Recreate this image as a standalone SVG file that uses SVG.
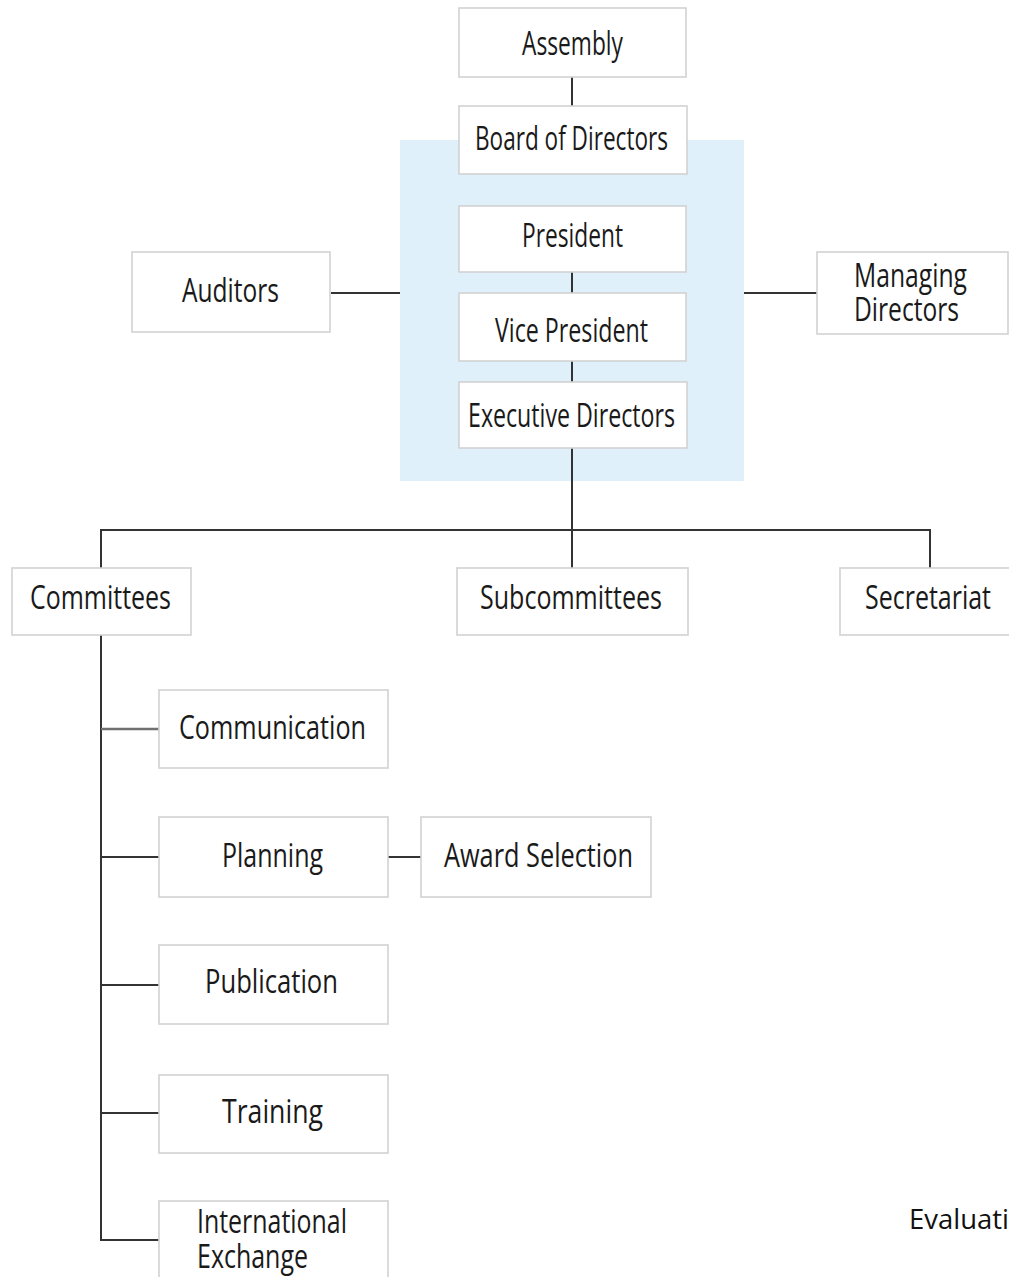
<svg xmlns="http://www.w3.org/2000/svg" width="1009" height="1277" viewBox="0 0 1009 1277">
<style>
.bg{fill:#ffffff}
.panel{fill:#dff0fa}
.box{fill:#ffffff;stroke:#d2d2d2;stroke-width:1.6}
.lbl{font-family:"Open Sans","Liberation Sans",sans-serif;font-size:32px;fill:#1a1a1a}
.c{fill:none;stroke:#333333;stroke-width:2}
.cg{fill:none;stroke:#707070;stroke-width:2.5}
.note{font-family:"Open Sans","Liberation Sans",sans-serif;font-size:28px;fill:#111111}
</style>
<rect class="bg" x="0" y="0" width="1009" height="1277"/>
<rect class="panel" x="400" y="140" width="344" height="341"/>
<g id="connectors">
<line class="c" x1="572" y1="77" x2="572" y2="106"/>
<line class="c" x1="572" y1="272" x2="572" y2="293"/>
<line class="c" x1="572" y1="361" x2="572" y2="382"/>
<line class="c" x1="331" y1="293" x2="400" y2="293"/>
<line class="c" x1="744" y1="293" x2="817" y2="293"/>
<line class="c" x1="572" y1="448" x2="572" y2="568"/>
<polyline class="c" points="101,568 101,530 930,530 930,568"/>
<polyline class="c" points="101,635 101,1240 159,1240"/>
<line class="cg" x1="101" y1="729" x2="159" y2="729"/>
<line class="c" x1="101" y1="857" x2="159" y2="857"/>
<line class="c" x1="388" y1="857" x2="421" y2="857"/>
<line class="c" x1="101" y1="985" x2="159" y2="985"/>
<line class="c" x1="101" y1="1113" x2="159" y2="1113"/>
</g>
<g id="assembly"><rect class="box" x="459" y="8" width="227" height="69"/><text class="lbl" x="522" y="55" textLength="101" lengthAdjust="spacingAndGlyphs">Assembly</text></g>
<g id="board"><rect class="box" x="459" y="106" width="228" height="68"/><text class="lbl" x="475" y="150" textLength="193" lengthAdjust="spacingAndGlyphs">Board of Directors</text></g>
<g id="president"><rect class="box" x="459" y="206" width="227" height="66"/><text class="lbl" x="522" y="247" textLength="101" lengthAdjust="spacingAndGlyphs">President</text></g>
<g id="vice-president"><rect class="box" x="459" y="293" width="227" height="68"/><text class="lbl" x="495" y="342" textLength="153" lengthAdjust="spacingAndGlyphs">Vice President</text></g>
<g id="executive-directors"><rect class="box" x="459" y="382" width="228" height="66"/><text class="lbl" x="468" y="427" textLength="207" lengthAdjust="spacingAndGlyphs">Executive Directors</text></g>
<g id="auditors"><rect class="box" x="132" y="252" width="198" height="80"/><text class="lbl" x="182" y="302" textLength="97" lengthAdjust="spacingAndGlyphs">Auditors</text></g>
<g id="managing-directors"><rect class="box" x="817" y="252" width="191" height="82"/><text class="lbl" x="854" y="287" textLength="113" lengthAdjust="spacingAndGlyphs">Managing</text><text class="lbl" x="854" y="321" textLength="105" lengthAdjust="spacingAndGlyphs">Directors</text></g>
<g id="committees"><rect class="box" x="12" y="568" width="179" height="67"/><text class="lbl" x="30" y="609" textLength="141" lengthAdjust="spacingAndGlyphs">Committees</text></g>
<g id="subcommittees"><rect class="box" x="457" y="568" width="231" height="67"/><text class="lbl" x="480" y="609" textLength="182" lengthAdjust="spacingAndGlyphs">Subcommittees</text></g>
<g id="secretariat"><rect class="box" x="840" y="568" width="180" height="67"/><text class="lbl" x="865" y="609" textLength="126" lengthAdjust="spacingAndGlyphs">Secretariat</text></g>
<g id="communication"><rect class="box" x="159" y="690" width="229" height="78"/><text class="lbl" x="179" y="739" textLength="187" lengthAdjust="spacingAndGlyphs">Communication</text></g>
<g id="planning"><rect class="box" x="159" y="817" width="229" height="80"/><text class="lbl" x="222" y="867" textLength="101" lengthAdjust="spacingAndGlyphs">Planning</text></g>
<g id="award-selection"><rect class="box" x="421" y="817" width="230" height="80"/><text class="lbl" x="444" y="867" textLength="189" lengthAdjust="spacingAndGlyphs">Award Selection</text></g>
<g id="publication"><rect class="box" x="159" y="945" width="229" height="79"/><text class="lbl" x="205" y="993" textLength="133" lengthAdjust="spacingAndGlyphs">Publication</text></g>
<g id="training"><rect class="box" x="159" y="1075" width="229" height="78"/><text class="lbl" x="222" y="1123" textLength="101" lengthAdjust="spacingAndGlyphs">Training</text></g>
<g id="international-exchange"><rect class="box" x="159" y="1201" width="229" height="90"/><text class="lbl" x="197" y="1233" textLength="150" lengthAdjust="spacingAndGlyphs">International</text><text class="lbl" x="197" y="1268" textLength="111" lengthAdjust="spacingAndGlyphs">Exchange</text></g>
<text class="note" x="909" y="1229" textLength="100" lengthAdjust="spacingAndGlyphs">Evaluati</text>
</svg>
